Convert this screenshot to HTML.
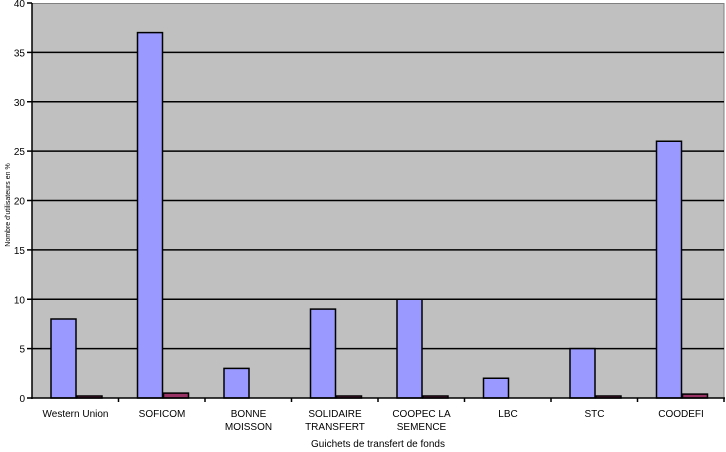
<!DOCTYPE html>
<html><head><meta charset="utf-8"><style>
html,body{margin:0;padding:0;background:#fff;}
svg{display:block;font-family:"Liberation Sans",Arial,sans-serif;}
</style></head><body>
<svg width="726" height="452" viewBox="0 0 726 452" xmlns="http://www.w3.org/2000/svg">
<rect x="32" y="3" width="692" height="395" fill="#c0c0c0"/>
<line x1="32" y1="3.5" x2="724" y2="3.5" stroke="#808080" stroke-width="1"/>
<line x1="724" y1="3" x2="724" y2="398" stroke="#808080" stroke-width="1"/>
<g stroke="#000" stroke-width="1.5">
<line x1="32" y1="348.6" x2="724" y2="348.6"/>
<line x1="32" y1="299.25" x2="724" y2="299.25"/>
<line x1="32" y1="249.9" x2="724" y2="249.9"/>
<line x1="32" y1="200.5" x2="724" y2="200.5"/>
<line x1="32" y1="151.1" x2="724" y2="151.1"/>
<line x1="32" y1="101.75" x2="724" y2="101.75"/>
<line x1="32" y1="52.4" x2="724" y2="52.4"/>
</g>
<g stroke="#000" stroke-width="1.5" fill="#9999ff">
<rect x="51" y="319" width="25" height="79"/>
<rect x="137.5" y="32.6" width="25" height="365.4"/>
<rect x="224" y="368.4" width="25" height="29.6"/>
<rect x="310.5" y="309.1" width="25" height="88.9"/>
<rect x="397" y="299.25" width="25" height="98.75"/>
<rect x="483.5" y="378.25" width="25" height="19.75"/>
<rect x="570" y="348.6" width="25" height="49.4"/>
<rect x="656.5" y="141.25" width="25" height="256.75"/>
</g>
<g stroke="#000" stroke-width="1.5" fill="#993366">
<rect x="77" y="396" width="25" height="2"/>
<rect x="163.5" y="393.1" width="25" height="4.9"/>
<rect x="336.5" y="396" width="25" height="2"/>
<rect x="423" y="396" width="25" height="2"/>
<rect x="596" y="396" width="25" height="2"/>
<rect x="682.5" y="394.1" width="25" height="3.9"/>
</g>
<g stroke="#000" stroke-width="1.5">
<line x1="32" y1="3" x2="32" y2="399"/>
<line x1="31" y1="398" x2="725" y2="398"/>
<line x1="27" y1="398" x2="32" y2="398"/>
<line x1="27" y1="348.6" x2="32" y2="348.6"/>
<line x1="27" y1="299.25" x2="32" y2="299.25"/>
<line x1="27" y1="249.9" x2="32" y2="249.9"/>
<line x1="27" y1="200.5" x2="32" y2="200.5"/>
<line x1="27" y1="151.1" x2="32" y2="151.1"/>
<line x1="27" y1="101.75" x2="32" y2="101.75"/>
<line x1="27" y1="52.4" x2="32" y2="52.4"/>
<line x1="27" y1="3" x2="32" y2="3"/>
<line x1="118.5" y1="398" x2="118.5" y2="402"/>
<line x1="205" y1="398" x2="205" y2="402"/>
<line x1="291.5" y1="398" x2="291.5" y2="402"/>
<line x1="378" y1="398" x2="378" y2="402"/>
<line x1="464.5" y1="398" x2="464.5" y2="402"/>
<line x1="551" y1="398" x2="551" y2="402"/>
<line x1="637.5" y1="398" x2="637.5" y2="402"/>
<line x1="724" y1="398" x2="724" y2="402"/>
</g>
<g font-size="10" fill="#000" text-anchor="end">
<text x="25" y="402">0</text>
<text x="25" y="352.6">5</text>
<text x="25" y="303.25">10</text>
<text x="25" y="253.9">15</text>
<text x="25" y="204.5">20</text>
<text x="25" y="155.1">25</text>
<text x="25" y="105.75">30</text>
<text x="25" y="56.4">35</text>
<text x="25" y="7">40</text>
</g>
<g font-size="10" fill="#000" text-anchor="middle">
<text x="75.5" y="417">Western Union</text>
<text x="162" y="417">SOFICOM</text>
<text x="248.5" y="417">BONNE</text>
<text x="248.5" y="430">MOISSON</text>
<text x="335" y="417">SOLIDAIRE</text>
<text x="335" y="430">TRANSFERT</text>
<text x="421.5" y="417">COOPEC LA</text>
<text x="421.5" y="430">SEMENCE</text>
<text x="508" y="417">LBC</text>
<text x="594.5" y="417">STC</text>
<text x="681" y="417">COODEFI</text>
<text x="378" y="447">Guichets de transfert de fonds</text>
</g>
<text transform="translate(10,205) rotate(-90)" font-size="7" text-anchor="middle" fill="#000">Nombre d'utilisateurs en %</text>
</svg>
</body></html>
